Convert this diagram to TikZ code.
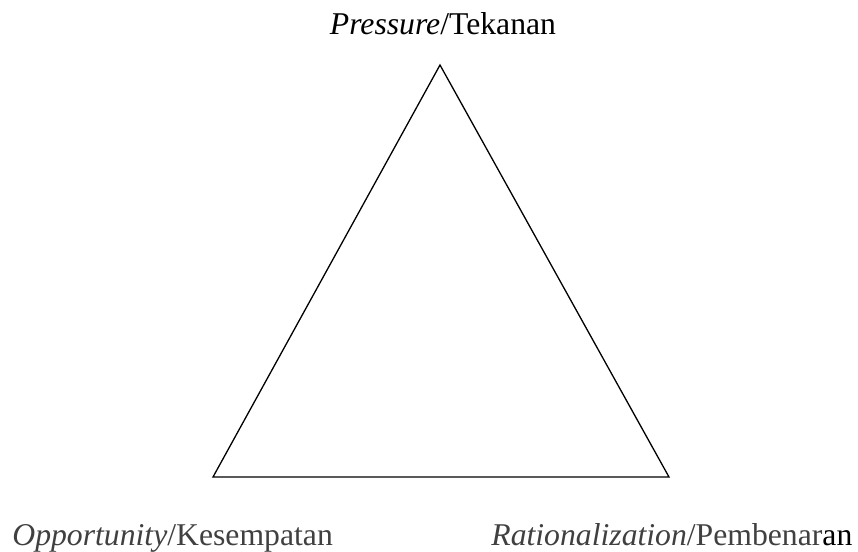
\documentclass[tikz,border=0pt]{standalone}
\usepackage{fontspec}
\setmainfont{Liberation Serif}
\usepackage{tikz}
\definecolor{toplabelcolor}{RGB}{0, 0, 0}
\definecolor{baselabelcolor}{RGB}{64, 64, 64}
\tikzset{
cornerlabel/.style={
  inner sep=0pt,
  font=\fontsize{15.85}{19}\selectfont,
  text=toplabelcolor
},
baselabel/.style={
  cornerlabel,
  anchor=base west,
  text=baselabelcolor
},
sideline/.style={
  draw=black,
  line width=0.65pt
}
}

\begin{document}
\begin{tikzpicture}[x=0.5pt, y=-0.5pt]
      \useasboundingbox (0,0) rectangle (858,552);

      % Corners of the triangle
      \coordinate (apex) at (440,65);
      \coordinate (left) at (213,477);
      \coordinate (right) at (669,477);

      % Triangle
      \draw[sideline] (apex) -- (left) -- (right) -- cycle;

      % Labels
      \node[cornerlabel, anchor=base] (pressure) at (443,34) {\textit{Pressure}/Tekanan};
      \node[baselabel] (opportunity) at (12,545) {\textit{Opportunity}/Kesempatan};
      \node[baselabel] (rationalization) at (491,545) {\textit{Rationalization}/Pembenar\textcolor{toplabelcolor}{an}};
\end{tikzpicture}
\end{document}
